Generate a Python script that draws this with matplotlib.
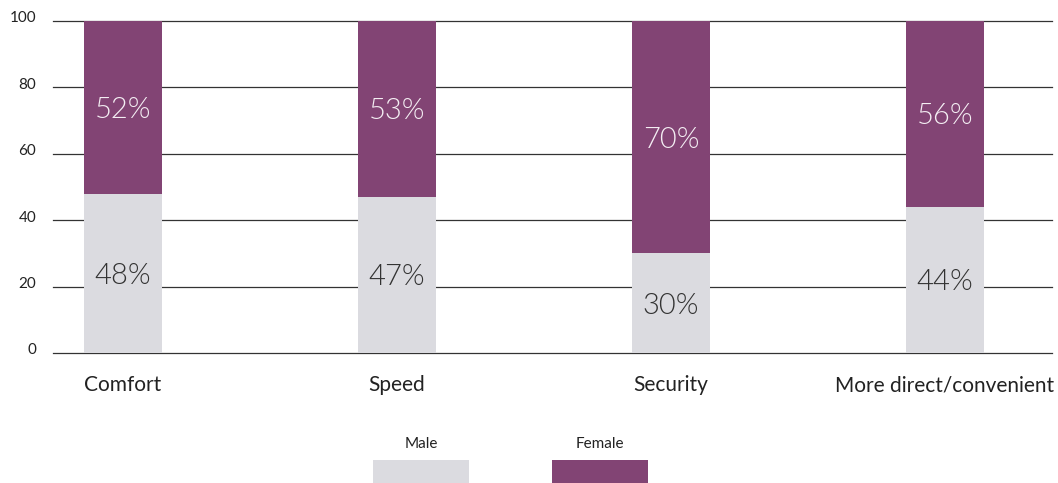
import matplotlib
matplotlib.use("Agg")
import matplotlib.pyplot as plt
import matplotlib.transforms as mtransforms
from matplotlib.patches import Rectangle

categories = ["Comfort", "Speed", "Security", "More direct/convenient"]
male = [48, 47, 30, 44]
female = [52, 53, 70, 56]
series_names = ["Male", "Female"]
yticks = [0, 20, 40, 60, 80, 100]

c_male = "#DBDBE0"
c_female = "#824474"

plt.rcParams['font.family'] = ['Lato', 'DejaVu Sans']

fig = plt.figure(figsize=(10.58, 4.83), dpi=100)
W, H = 1058, 483
ax = fig.add_axes([53 / W, (H - 353) / H, (1052 - 53) / W, 332 / H])

x = list(range(len(categories)))
bw = 78 / 274
ax.bar(x, male, width=bw, color=c_male, zorder=2)
ax.bar(x, female, width=bw, bottom=male, color=c_female, zorder=2)

for i in x:
    ax.text(i, male[i] / 2, f"{male[i]}%", ha="center", va="center_baseline",
            fontsize=21, fontweight=300, color="#333333", zorder=3)
    ax.text(i, male[i] + female[i] / 2, f"{female[i]}%", ha="center", va="center_baseline",
            fontsize=21, fontweight=300, color="#F4EEF3", zorder=3)

ax.set_xlim(-70 / 274, (1052 - 123) / 274)
ax.set_ylim(0, 100)
ax.set_yticks(yticks)
ax.set_yticklabels([str(v) for v in yticks], fontsize=11, color="#222222")
ax.set_xticks(x)
ax.set_xticklabels(categories, fontsize=15, color="#222222")
ax.tick_params(axis="both", length=0)
ax.tick_params(axis="x", pad=16)
ax.tick_params(axis="y", pad=12)
offset = mtransforms.ScaledTranslation(0, 4 / 100, fig.dpi_scale_trans)
for lab in ax.get_yticklabels():
    lab.set_transform(lab.get_transform() + offset)

ax.yaxis.grid(True, color="#333333", linewidth=0.9, zorder=0)
for gl in ax.get_ygridlines():
    gl.set_clip_on(False)
ax.set_axisbelow(True)
for s in ax.spines.values():
    s.set_visible(False)

# legend
legend_items = [(series_names[0], c_male, 373, 469), (series_names[1], c_female, 552, 648)]
for name, col, x0, x1 in legend_items:
    fig.add_artist(Rectangle((x0 / W, 0), (x1 - x0) / W, (483 - 460) / H,
                             transform=fig.transFigure, color=col, lw=0))
    fig.text((x0 + x1) / 2 / W, (H - 444) / H, name, ha="center", va="center",
             fontsize=11, color="#222222")

fig.savefig("out.png", dpi=100)
